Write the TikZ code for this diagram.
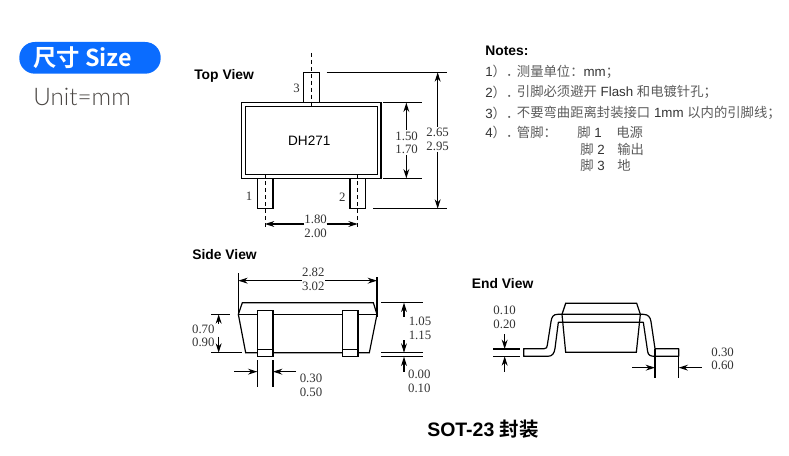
\documentclass[tikz,border=0pt]{standalone}
\usepackage{fontspec}
\usetikzlibrary{arrows.meta}
\setmainfont{Liberation Sans}
\newfontfamily\numfont{Liberation Serif}
\newfontfamily\cjkfont{Noto Sans CJK SC}
\newfontfamily\cjkbold[BoldFont={Noto Sans CJK SC Bold}]{Noto Sans CJK SC}
\newfontfamily\thinfont{Lato Light}
\definecolor{pillblue}{HTML}{0A6CFF}
\definecolor{inkgray}{HTML}{333333}
\definecolor{unitgray}{HTML}{4A4643}
\tikzset{
  part/.style={draw=black,line width=.9pt,line join=miter},
  leader/.style={draw=black,line width=.8pt},
  dimarrow/.style={draw=black,line width=.8pt,-{Stealth[length=7pt,width=4.4pt]}},
  center line/.style={draw=black,line width=.7pt,dash pattern=on 3pt off 2.2pt},
  num/.style={inner sep=0pt,font=\numfont\fontsize{9.6}{10}\selectfont,text=inkgray},
  viewtitle/.style={inner sep=0pt,anchor=west,font=\bfseries\fontsize{10.4}{12}\selectfont},
  note/.style={inner sep=0pt,anchor=west,text=inkgray,font=\fontsize{10}{12}\selectfont},
  zoomA/.style={shift={(180,55)},x=.25pt,y=-.25pt},
  zoomB/.style={shift={(180,245)},x=.25pt,y=-.25pt},
  zoomC/.style={shift={(465,270)},x=.25pt,y=-.25pt},
}
\newcommand{\zh}[1]{{\cjkfont\color{inkgray!80}#1}}
\begin{document}
\begin{tikzpicture}[x=.75pt,y=-.75pt]
\useasboundingbox (0,0) rectangle (789,456);
\fill[white] (0,0) rectangle (789,456);

% badge
\fill[pillblue,rounded corners=15.5*.75pt] (19.3,42) rectangle (160.7,73.7);
\node[inner sep=0pt,anchor=west,text=white,font=\cjkbold\bfseries\fontsize{17.5}{20}\selectfont] (badge) at (33,57.5) {尺寸 Size};
\node[inner sep=0pt,anchor=west,text=unitgray,font=\thinfont\fontsize{18.2}{20}\selectfont] (unit) at (33,96.5) {Unit=mm};

% Top view
\begin{scope}[zoomA]
\node[viewtitle] (tv) at (42,62) {Top View};
\draw[part] (371,143) -- (371,52) -- (418,52) -- (418,143);
\draw[part] (232,370) -- (232,461) -- (279,461) -- (279,370);
\draw[part] (510,370) -- (510,461) -- (557,461) -- (557,370);
\draw[part] (185,143) rectangle (603,370);
\draw[part] (196,154) rectangle (592,358);
\draw[center line] (394,-6) -- (394,154);
\draw[center line] (255,358) -- (255,517);
\draw[center line] (533,358) -- (533,517);
\draw[leader] (440,52) -- (800,52);
\draw[leader] (610,143) -- (725,143);
\draw[leader] (610,370) -- (725,370);
\draw[leader] (580,461) -- (800,461);
\draw[dimarrow] (773,215) -- (773,52);
\draw[dimarrow] (773,290) -- (773,461);
\draw[dimarrow] (679,225) -- (679,143);
\draw[dimarrow] (679,300) -- (679,370);
\draw[dimarrow] (372,507) -- (255,507);
\draw[dimarrow] (440,507) -- (533,507);
\node[num] (n3) at (350,100) {3};
\node[num] (n1) at (207,424) {1};
\node[num] (n2) at (487,427) {2};
\node[inner sep=0pt,font=\fontsize{10.2}{12}\selectfont] (dh) at (388,257) {DH271};
\node[num] at (407,493) {1.80};
\node[num] at (407,535) {2.00};
\node[num] at (680,243) {1.50};
\node[num] at (680,284) {1.70};
\node[num] at (773,232) {2.65};
\node[num] at (773,273) {2.95};
\end{scope}

% Side view
\begin{scope}[zoomB]
\node[viewtitle] (sv) at (36,30) {Side View};
\draw[part] (175,208) -- (187,173) -- (580,173) -- (591,208) -- (568,323) -- (197,323) -- cycle;
\draw[part] (175,208) -- (591,208);
\draw[part,fill=white] (232,197) rectangle (279,335);
\draw[part] (232,313) -- (279,313);
\draw[part,fill=white] (487,197) rectangle (534,335);
\draw[part] (487,313) -- (534,313);
\draw[leader] (175,85) -- (175,215);
\draw[leader] (591,97) -- (591,215);
\draw[dimarrow] (365,107) -- (175,107);
\draw[dimarrow] (435,107) -- (591,107);
\draw[leader] (93,208) -- (150,208);
\draw[leader] (93,323) -- (185,323);
\draw[dimarrow] (116,237) -- (116,208);
\draw[dimarrow] (116,275) -- (116,323);
\draw[leader] (603,173) -- (730,173);
\draw[leader] (603,323) -- (730,323);
\draw[leader] (603,335) -- (730,335);
\draw[dimarrow] (672,215) -- (672,173);
\draw[dimarrow] (672,285) -- (672,323);
\draw[dimarrow] (672,380) -- (672,335);
\draw[leader] (232,345) -- (232,425);
\draw[leader] (279,345) -- (279,425);
\draw[dimarrow] (163,380) -- (232,380);
\draw[dimarrow] (348,380) -- (279,380);
\node[num] at (400,83) {2.82};
\node[num] at (400,123) {3.02};
\node[num] at (70,253) {0.70};
\node[num] at (70,293) {0.90};
\node[num] at (720,230) {1.05};
\node[num] at (720,272) {1.15};
\node[num] at (718,389) {0.00};
\node[num] at (718,429) {0.10};
\node[num] at (393,400) {0.30};
\node[num] at (393,441) {0.50};
\end{scope}

% End view
\begin{scope}[zoomC]
\node[viewtitle] (ev) at (20,40) {End View};
\draw[part] (302,100) -- (515,100) -- (526,133) -- (514,247) -- (302,247) -- (291,133) -- cycle;
\draw[part,line join=round] (176,236) -- (238,236) .. controls (245,236) and (246,232) .. (247,225)
  -- (258,155) .. controls (260,140) and (265,133) .. (278,133)
  -- (535,133) .. controls (550,133) and (556,142) .. (558,155)
  -- (570,236) -- (641,236) -- (641,259) -- (570,259) .. controls (555,259) and (550,255) .. (548,245)
  -- (535,157) -- (280,157) -- (270,235) .. controls (268,250) and (262,259) .. (248,259)
  -- (176,259) -- cycle;
\draw[leader] (85,237) -- (164,237);
\draw[leader] (85,259) -- (164,259);
\draw[dimarrow] (119,192) -- (119,237);
\draw[dimarrow] (119,305) -- (119,259);
\draw[leader] (570,236) -- (570,325);
\draw[leader] (641,259) -- (641,325);
\draw[dimarrow] (502,293) -- (570,293);
\draw[dimarrow] (710,293) -- (641,293);
\node[num] at (119,121) {0.10};
\node[num] at (119,162) {0.20};
\node[num] at (773,247) {0.30};
\node[num] at (773,287) {0.60};
\end{scope}

% Notes
\node[viewtitle] (notes) at (485,50.5) {Notes:};
\node[note] (l1) at (485,71.7) {1\zh{）．}};
\node[note] at (516.7,71.7) {\zh{测量单位：}mm\zh{；}};
\node[note] (l2) at (485,92.3) {2\zh{）．}};
\node[note] at (516.7,92.3) {\zh{引脚必须避开} Flash \zh{和电镀针孔；}};
\node[note] (l3) at (485,113.3) {3\zh{）．}};
\node[note] at (516.7,113.3) {\zh{不要弯曲距离封装接口} 1mm \zh{以内的引脚线；}};
\node[note] (l4) at (485,132.7) {4\zh{）．}};
\node[note] at (516.7,132.7) {\zh{管脚：}};
\node[note] at (577,132.7) {\zh{脚} 1};
\node[note] at (616,132.7) {\zh{电源}};
\node[note] at (580,149) {\zh{脚} 2};
\node[note] at (617,149) {\zh{输出}};
\node[note] at (580,165) {\zh{脚} 3};
\node[note] at (617,165) {\zh{地}};

% Caption
\node[inner sep=0pt,font=\cjkbold\fontsize{14.6}{17}\selectfont] at (427,429) [anchor=west] {\bfseries\rmfamily SOT-23 \cjkbold\bfseries 封装};
\end{tikzpicture}
\end{document}
